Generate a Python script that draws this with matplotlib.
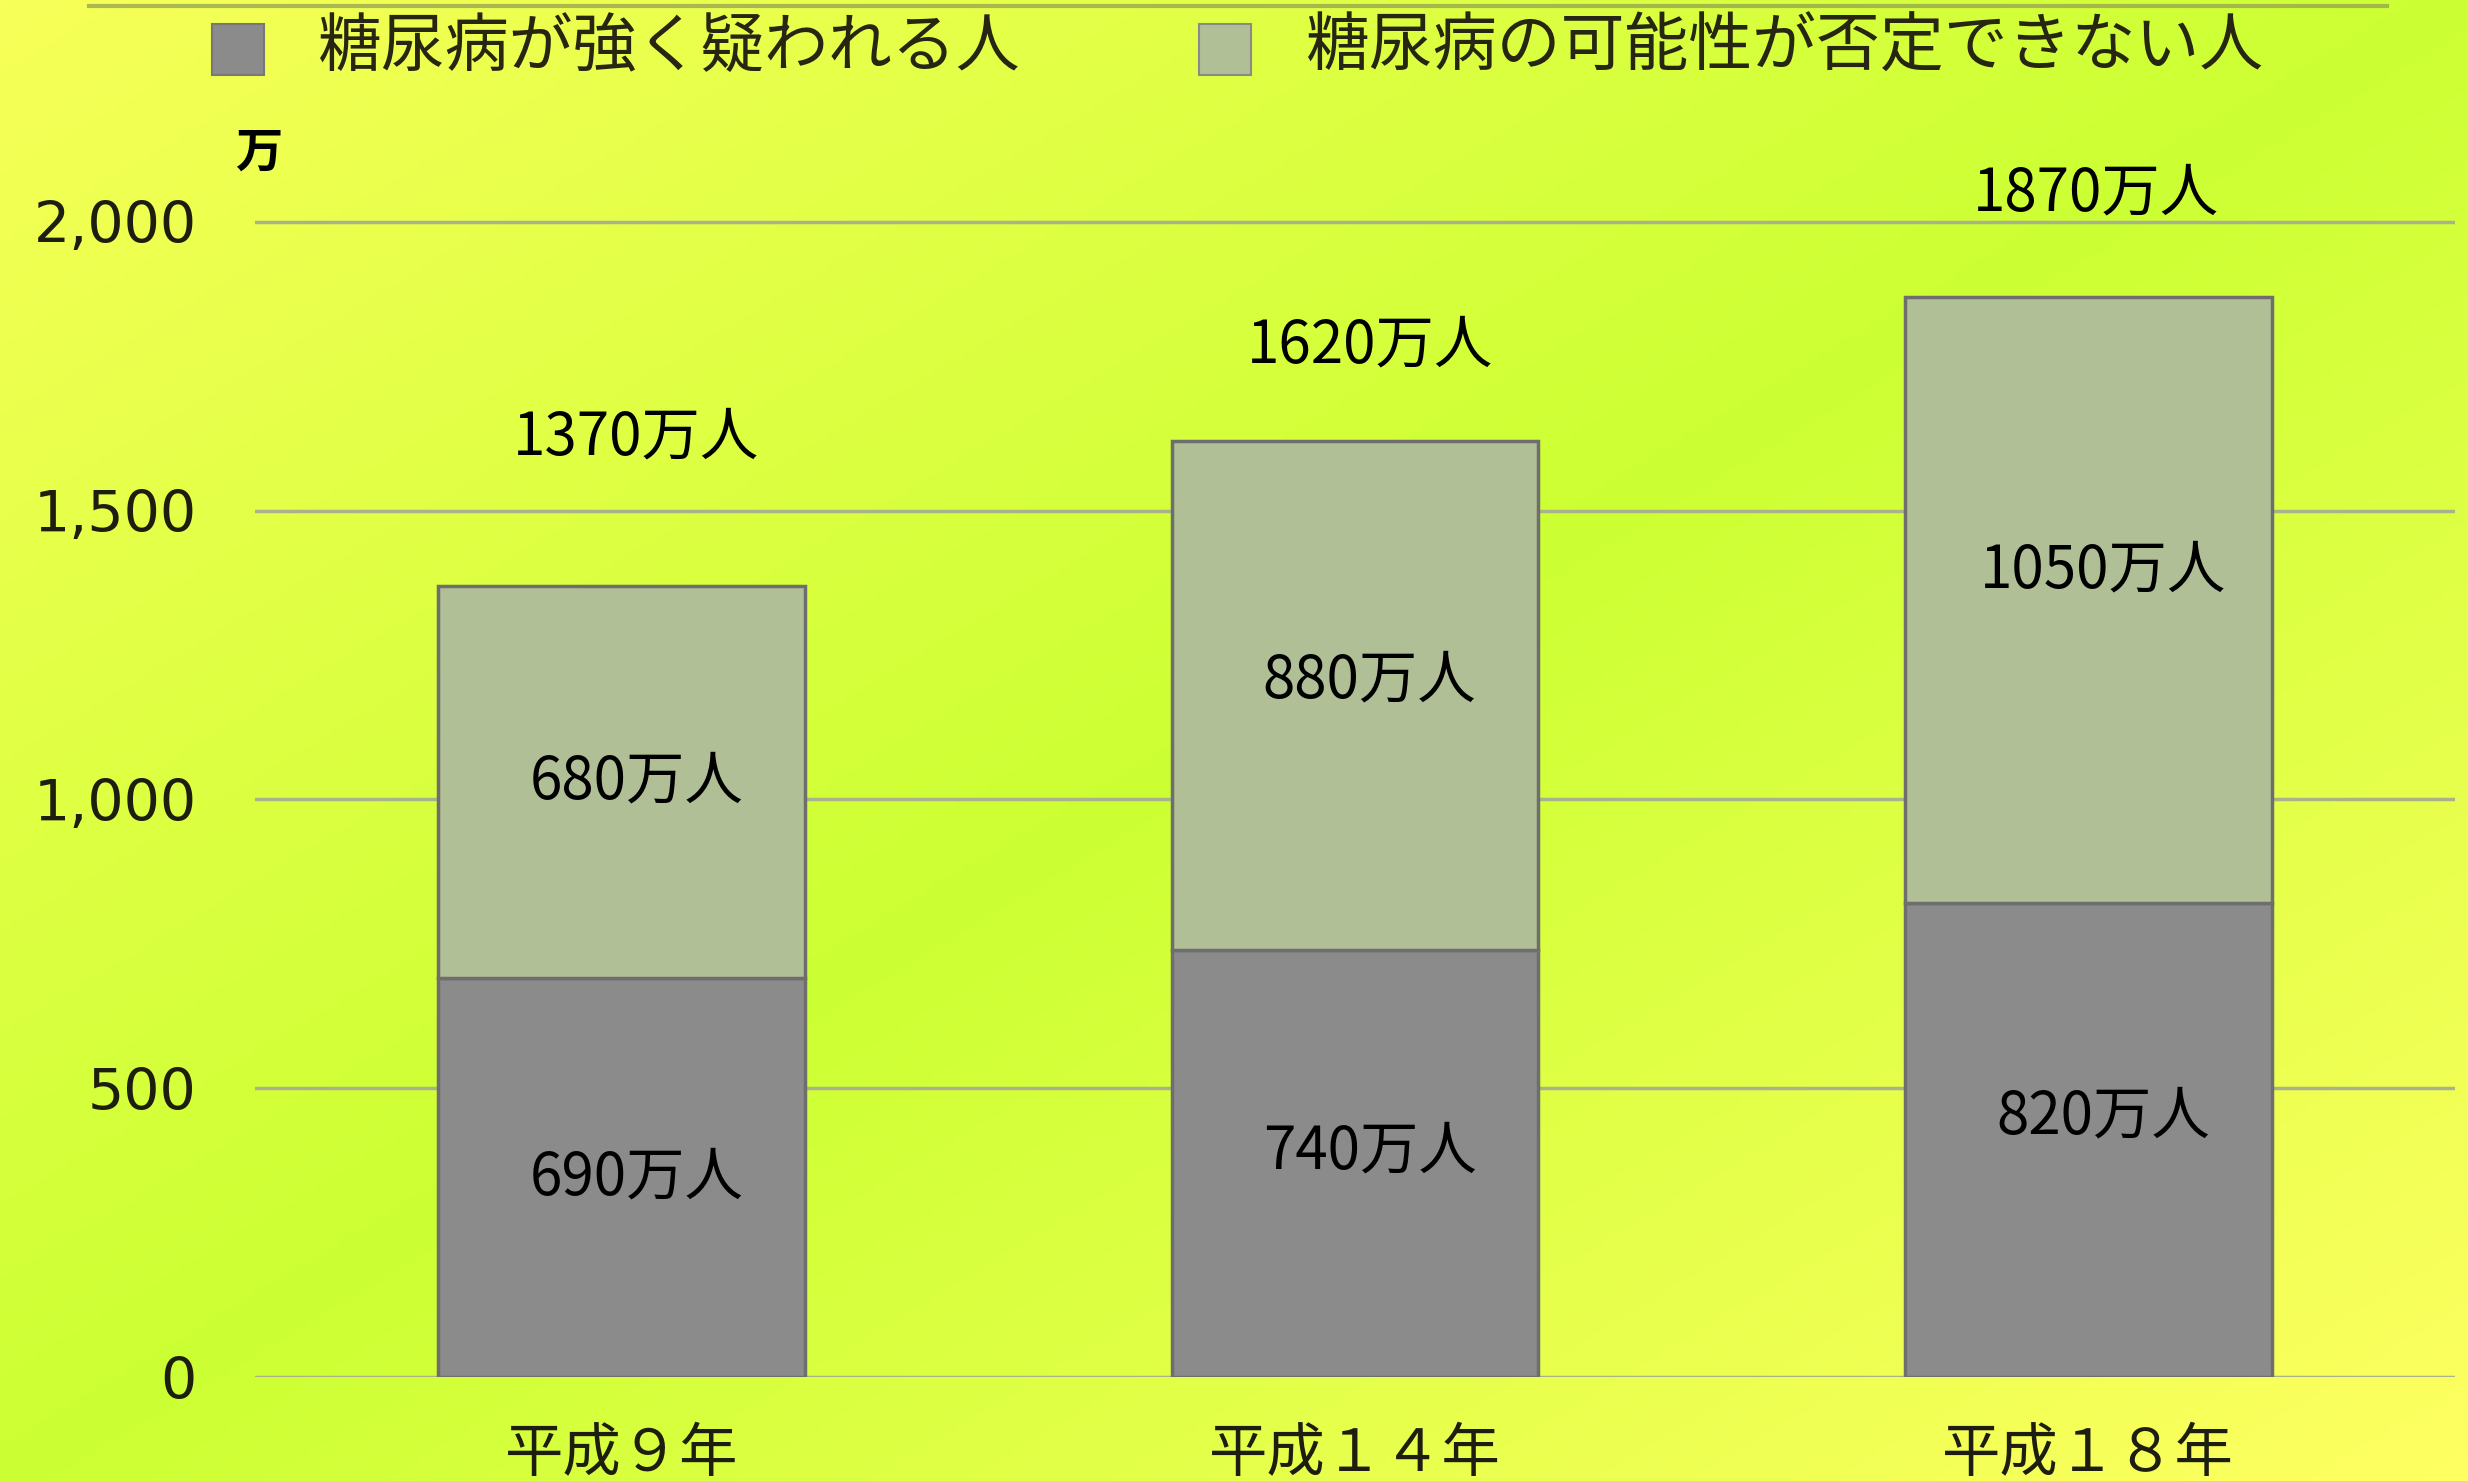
import numpy as np
import matplotlib
matplotlib.use('Agg')
import matplotlib.pyplot as plt
from matplotlib.patches import Rectangle

plt.rcParams['font.family'] = ['Noto Sans CJK JP', 'DejaVu Sans']

# データ（単位：万人）
years    = ['平成９年', '平成１４年', '平成１８年']
strong   = [690, 740, 820]      # 糖尿病が強く疑われる人
possible = [680, 880, 1050]     # 糖尿病の可能性が否定できない人
totals   = [1370, 1620, 1870]
yticks   = [0, 500, 1000, 1500, 2000]
legend_labels = ['糖尿病が強く疑われる人', '糖尿病の可能性が否定できない人']

c_dark  = '#8b8b8b'
c_light = '#b0bf96'
c_edge  = '#6e6e6e'

fig = plt.figure(figsize=(24.68, 14.81), dpi=100)

# 背景のグラデーション（左上と右下が黄色、中央が黄緑）
bg = fig.add_axes([0, 0, 1, 1], zorder=-10)
gx, gy = np.meshgrid(np.linspace(0, 1, 400), np.linspace(0, 1, 240))
t = (gx + gy) / 2
w = np.abs(2 * t - 1)[..., None]
lime = np.array([0xcc, 0xff, 0x33]) / 255
yel1 = np.array([0xf7, 0xff, 0x58]) / 255
yel2 = np.array([0xff, 0xff, 0x62]) / 255
yel = np.where((t < 0.5)[..., None], yel1, yel2)
img = lime * (1 - w) + yel * w
bg.imshow(img, aspect='auto', extent=[0, 1, 0, 1], origin='upper')
bg.axis('off')

# 上端の線
fig.add_artist(plt.Line2D([0.036, 0.967], [0.996, 0.996], color='#8f9a50',
                          lw=3, alpha=0.7))

ax = fig.add_axes([0.1033, 0.0702, 0.8914, 0.8190])
ax.set_facecolor('none')
x = np.arange(len(years))

ax.bar(x, strong, width=0.5, color=c_dark, edgecolor=c_edge, linewidth=2.5, zorder=3)
ax.bar(x, possible, width=0.5, bottom=strong, color=c_light, edgecolor=c_edge,
       linewidth=2.5, zorder=3)

for i in range(len(years)):
    ax.text(x[i] + 0.02, strong[i] / 2 + 20 * i, f'{strong[i]}万人', ha='center',
            va='center', fontsize=42, zorder=5)
    ax.text(x[i] + 0.02, strong[i] + possible[i] / 2 + 25 * i, f'{possible[i]}万人',
            ha='center', va='center', fontsize=42, zorder=5)
ax.text(x[0] + 0.02, totals[0] + 255, f'{totals[0]}万人', ha='center', va='center', fontsize=42)
ax.text(x[1] + 0.02, totals[1] + 165, f'{totals[1]}万人', ha='center', va='center', fontsize=42)
ax.text(x[2] + 0.01, totals[2] + 178, f'{totals[2]}万人', ha='center', va='center', fontsize=42)

ax.set_xlim(-0.5, 2.5)
ax.set_ylim(0, 2100)
ax.set_yticks(yticks)
ax.set_yticklabels([f'{v:,}' for v in yticks], family='DejaVu Sans', fontsize=41,
                   color='#1e1e10')
ax.set_xticks(x)
ax.set_xticklabels(years, fontsize=42, color='#1e1e10')
ax.tick_params(axis='y', length=0, pad=42)
ax.tick_params(axis='x', length=0, pad=34)
for s in ax.spines.values():
    s.set_visible(False)
ax.grid(axis='y', color='#a9b28a', linewidth=2.5, zorder=0)
ax.set_axisbelow(True)

fig.text(0.105, 0.897, '万', fontsize=34, fontweight='bold', ha='center', va='center')

# 凡例
fig.add_artist(Rectangle((0.086, 0.9494), 0.021, 0.0344, transform=fig.transFigure,
                         facecolor=c_dark, edgecolor='#777777', lw=1.5))
fig.text(0.129, 0.968, legend_labels[0], fontsize=46, va='center', color='#262612')
fig.add_artist(Rectangle((0.486, 0.9494), 0.021, 0.0344, transform=fig.transFigure,
                         facecolor=c_light, edgecolor='#8a8a8a', lw=1.5))
fig.text(0.529, 0.968, legend_labels[1], fontsize=46, va='center', color='#262612')

fig.savefig('out.png', dpi=100)
